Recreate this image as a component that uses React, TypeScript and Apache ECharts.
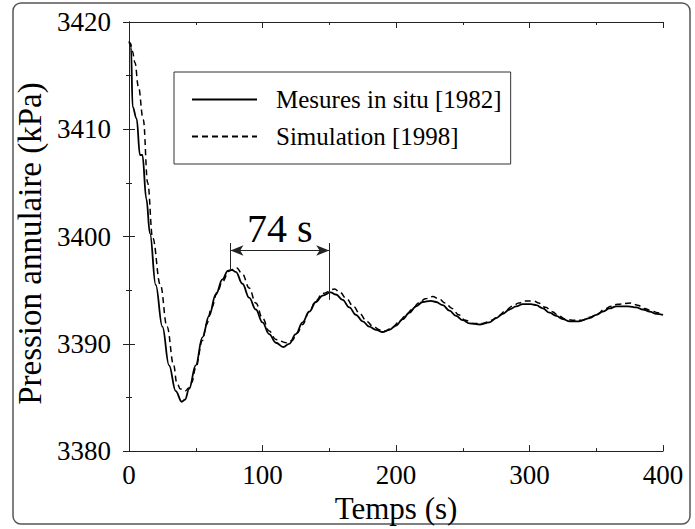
import React, { useEffect, useRef } from "react";
import * as echarts from "echarts";

const tMesures = [0, 1, 1.5, 2.7, 5.7, 8.2, 10, 13, 15.7, 20, 25, 30, 35, 39.5, 42, 45, 50, 55, 60, 65, 70, 74, 77, 80, 85, 90, 95, 100, 105, 110, 115.6, 120, 125, 130, 135, 140, 145, 151, 155, 160, 165, 170, 175, 180, 185, 190, 195, 200, 205, 210, 215, 220, 226, 230, 235, 240, 245, 250, 255, 263, 270, 275, 280, 285, 290, 295, 301, 305, 310, 315, 320, 325, 330, 337, 345, 350, 355, 360, 365, 374, 380, 385, 390, 395, 400];
const pMesures = [3418.1, 3418.0, 3417.7, 3412.1, 3411.0, 3407.6, 3407.6, 3403.5, 3400.3, 3395.5, 3391.6, 3388.0, 3385.6, 3384.6, 3384.8, 3385.8, 3388.0, 3390.6, 3392.6, 3394.6, 3396.0, 3396.8, 3396.9, 3396.7, 3395.6, 3394.3, 3393.2, 3392.0, 3390.9, 3390.1, 3389.7, 3390.0, 3390.9, 3392.0, 3393.0, 3393.9, 3394.5, 3394.8, 3394.6, 3394.1, 3393.4, 3392.7, 3392.1, 3391.6, 3391.3, 3391.1, 3391.3, 3391.7, 3392.3, 3392.9, 3393.5, 3393.9, 3394.0, 3393.9, 3393.6, 3393.1, 3392.6, 3392.2, 3391.9, 3391.8, 3392.0, 3392.4, 3392.8, 3393.2, 3393.5, 3393.7, 3393.7, 3393.6, 3393.3, 3392.9, 3392.6, 3392.3, 3392.1, 3392.1, 3392.4, 3392.7, 3393.0, 3393.3, 3393.5, 3393.5, 3393.4, 3393.2, 3393.0, 3392.8, 3392.7];

const tSimulation = [0, 1, 2.5, 4.5, 7, 10.7, 14, 17.7, 23.5, 28.5, 33.5, 35.7, 38.5, 42, 45, 47, 50, 55, 58, 62, 66, 70, 75, 80.5, 85, 90, 95, 100, 105, 110, 118, 122, 126, 130, 135, 140, 145, 154, 158, 163, 168, 173, 178, 183, 188, 192, 197, 202, 207, 212, 217, 222, 227.5, 232, 237, 242, 247, 252, 258, 265, 272, 277, 282, 287, 292, 297, 303, 307, 312, 317, 322, 327, 332, 339, 346, 351, 356, 361, 366, 376, 381, 386, 391, 396, 400];
const pSimulation = [3418.2, 3418.0, 3417.3, 3416.2, 3414.0, 3410.9, 3405.0, 3399.9, 3395.5, 3391.6, 3388.0, 3386.4, 3385.8, 3385.6, 3385.9, 3386.4, 3387.8, 3390.3, 3391.8, 3393.4, 3394.8, 3395.8, 3396.8, 3397.1, 3396.5, 3395.2, 3393.8, 3392.4, 3391.2, 3390.4, 3390.1, 3390.3, 3391.0, 3391.8, 3393.0, 3394.0, 3394.7, 3395.1, 3394.8, 3394.2, 3393.5, 3392.8, 3392.1, 3391.6, 3391.3, 3391.2, 3391.5, 3392.0, 3392.6, 3393.2, 3393.8, 3394.2, 3394.4, 3394.2, 3393.8, 3393.3, 3392.7, 3392.2, 3391.9, 3391.9, 3392.2, 3392.6, 3393.1, 3393.5, 3393.8, 3394.0, 3394.0, 3393.8, 3393.4, 3393.0, 3392.6, 3392.3, 3392.2, 3392.2, 3392.5, 3392.8, 3393.2, 3393.5, 3393.7, 3393.8, 3393.6, 3393.3, 3393.1, 3392.9, 3392.7];

const seriesNames = ["Mesures in situ [1982]", "Simulation [1998]"];
const xTicks = { min: 0, max: 400, interval: 100 };
const yTicks = { min: 3380, max: 3420, interval: 10 };
const periodStart = 76;
const periodEnd = 150;
const periodLabel = "74 s";
const arrowLevel = 3398.7;
const bracketTop = 3399.4;
const firstPeak = 3396.9;
const secondPeak = 3394.1;

const FONT = "Liberation Serif, serif";

export default function App() {
  const ref = useRef<HTMLDivElement>(null);
  useEffect(() => {
    document.body.style.margin = "0";
    const chart = echarts.init(ref.current!, null, { renderer: "svg" });
    const axisCommon = {
      axisLine: { show: true, lineStyle: { color: "#222", width: 1 } },
      axisTick: { show: true, inside: true, length: 6, lineStyle: { color: "#222" } },
      minorTick: { show: true, splitNumber: 2, length: 3, lineStyle: { color: "#222" } },
      splitLine: { show: false },
    };
    chart.setOption({
      animation: false,
      backgroundColor: "#fff",
      textStyle: { fontFamily: FONT },
      grid: { left: 129, right: 32, top: 22, bottom: 77 },
      graphic: [
        {
          type: "rect",
          shape: { x: 13, y: 3, width: 677, height: 521, r: 8 },
          style: { fill: "none", stroke: "#555", lineWidth: 1.5 },
          silent: true,
        },
      ],
      legend: {
        show: true,
        orient: "vertical",
        left: 174,
        top: 72,
        padding: [15, 9, 15, 17],
        itemGap: 12,
        itemWidth: 65,
        itemHeight: 14,
        borderColor: "#333",
        borderWidth: 1,
        textStyle: { fontSize: 25, fontFamily: FONT, color: "#000", padding: [0, 0, 0, 14] },
        itemStyle: { opacity: 0 },
        data: seriesNames,
      },
      xAxis: [
        {
          type: "value",
          ...xTicks,
          position: "bottom",
          ...axisCommon,
          axisLabel: {
            fontSize: 27,
            fontFamily: FONT,
            color: "#000",
            margin: 10,
            formatter: (v: number) => String(v),
          },
          name: "Temps (s)",
          nameLocation: "middle",
          nameGap: 33,
          nameTextStyle: { fontSize: 31, fontFamily: FONT, color: "#000" },
        },
        {
          type: "value",
          ...xTicks,
          position: "top",
          ...axisCommon,
          axisLabel: { show: false },
        },
      ],
      yAxis: [
        {
          type: "value",
          ...yTicks,
          position: "left",
          ...axisCommon,
          axisLabel: {
            fontSize: 27,
            fontFamily: FONT,
            color: "#000",
            margin: 18,
            formatter: (v: number) => String(v),
          },
          name: "Pression annulaire (kPa)",
          nameLocation: "middle",
          nameGap: 74,
          nameTextStyle: { fontSize: 33, fontFamily: FONT, color: "#000", padding: [0, 14, 0, 0] },
        },
        {
          type: "value",
          ...yTicks,
          position: "right",
          ...axisCommon,
          axisLabel: { show: false },
        },
      ],
      series: [
        {
          name: seriesNames[0],
          type: "line",
          data: tMesures.map((t, i) => [t, pMesures[i]]),
          showSymbol: false,
          symbol: "none",
          smooth: 0.4,
          smoothMonotone: "x",
          lineStyle: { color: "#000", width: 1.8, type: "solid" },
          itemStyle: { color: "#000" },
          markLine: {
            silent: true,
            symbol: "none",
            lineStyle: { color: "#222", width: 1, type: "solid" },
            label: { show: false },
            data: [
              [{ coord: [periodStart, bracketTop] }, { coord: [periodStart, firstPeak] }],
              [{ coord: [periodEnd, bracketTop] }, { coord: [periodEnd, secondPeak] }],
              [
                {
                  coord: [periodStart, arrowLevel],
                  symbol: "arrow",
                  symbolSize: [8, 13],
                },
                {
                  coord: [periodEnd, arrowLevel],
                  symbol: "arrow",
                  symbolSize: [8, 13],
                  label: {
                    show: true,
                    formatter: periodLabel,
                    position: "insideMiddleTop",
                    distance: 2,
                    fontSize: 40,
                    fontFamily: FONT,
                    color: "#000",
                  },
                },
              ],
            ],
          },
        },
        {
          name: seriesNames[1],
          type: "line",
          data: tSimulation.map((t, i) => [t, pSimulation[i]]),
          showSymbol: false,
          symbol: "none",
          smooth: 0.4,
          smoothMonotone: "x",
          lineStyle: { color: "#000", width: 1.5, type: [6, 4] },
          itemStyle: { color: "#000" },
        },
      ],
    });
    return () => chart.dispose();
  }, []);
  return <div ref={ref} style={{ width: 695, height: 529 }} />;
}
